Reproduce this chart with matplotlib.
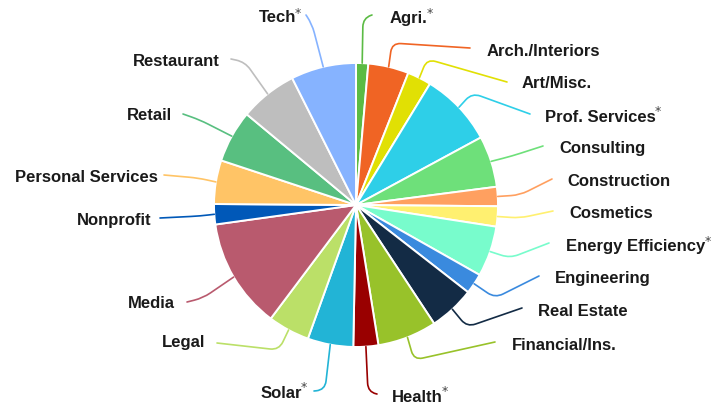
import matplotlib
matplotlib.use("Agg")
import matplotlib.pyplot as plt
import numpy as np
from matplotlib.path import Path
from matplotlib.patches import PathPatch

# ---------------- data ----------------
categories = ["Agri.", "Arch./Interiors", "Art/Misc.", "Prof. Services", "Consulting",
              "Construction", "Cosmetics", "Energy Efficiency", "Engineering", "Real Estate",
              "Financial/Ins.", "Health", "Solar", "Legal", "Media", "Nonprofit",
              "Personal Services", "Retail", "Restaurant", "Tech"]
values = [5.0, 16.6, 9.8, 30.2, 21.0, 7.9, 8.3, 20.7, 8.4, 18.7,
          24.3, 10.2, 18.7, 17.1, 45.2, 8.3, 17.9, 21.4, 23.6, 26.7]
starred = ["Agri.", "Prof. Services", "Energy Efficiency", "Health", "Solar", "Tech"]

colors = ["#5BBB44", "#F06424", "#E1E004", "#2ECFE8", "#6EE07A",
          "#FFA060", "#FFF070", "#78FCCC", "#3A8ADE", "#132B45",
          "#98C22A", "#990000", "#22B4D6", "#BBE068", "#B95A6E",
          "#0058B8", "#FFC466", "#58BF80", "#BEBEBE", "#86B3FF"]

# ---------------- layout (pixel coords, y down) ----------------
W, H = 722, 404
CX, CY, R = 356, 205, 142
# label: (text x, text y, ha, corner x, corner y, line end x, line end y)
layout = {
    "Tech":              (296, 18, "right", 312, 24, 306, 15),
    "Agri.":             (390, 19, "left", 363, 18, 372, 15),
    "Arch./Interiors":   (487, 51, "left", 392, 43, 470, 48),
    "Art/Misc.":         (522, 84, "left", 427, 59, 507, 82),
    "Prof. Services":    (545, 117, "left", 472, 93, 530, 114),
    "Consulting":        (559, 149, "left", 512, 156, 543, 146),
    "Construction":      (567, 181, "left", 520, 195, 552, 179),
    "Cosmetics":         (569, 214, "left", 520, 218, 553, 211),
    "Energy Efficiency": (566, 247, "left", 510, 258, 549, 243),
    "Engineering":       (555, 279, "left", 495, 298, 539, 276),
    "Real Estate":       (538, 312, "left", 467, 327, 522, 308),
    "Financial/Ins.":    (512, 345, "left", 414, 360, 495, 342),
    "Health":            (392, 397, "left", 368, 392, 377, 394),
    "Solar":             (302, 393, "right", 325, 390, 314, 391),
    "Legal":             (205, 343, "right", 279, 350, 217, 343),
    "Media":             (175, 304, "right", 203, 298, 187, 302),
    "Nonprofit":         (152, 221, "right", 200, 216, 160, 218),
    "Personal Services": (158, 177, "right", 198, 178, 164, 175),
    "Retail":            (172, 116, "right", 200, 120, 183, 114),
    "Restaurant":        (220, 61, "right", 245, 62, 231, 59),
}

fig = plt.figure(figsize=(W / 100, H / 100), dpi=100)
ax = fig.add_axes([0, 0, 1, 1])

wedges, _ = ax.pie(values, colors=colors, startangle=90, counterclock=False,
                   center=(CX, H - CY), radius=R,
                   wedgeprops=dict(edgecolor="white", linewidth=1.4))
ax.set_xlim(0, W)
ax.set_ylim(0, H)
ax.set_aspect("equal")
ax.axis("off")


def fy(y):
    return H - y


def lerp(a, b, t):
    return (a[0] + (b[0] - a[0]) * t, a[1] + (b[1] - a[1]) * t)


total = sum(values)
cum = 0.0
fig.canvas.draw()
renderer = fig.canvas.get_renderer()
for cat, val, col in zip(categories, values, colors):
    mid = (cum + val / 2) / total * 2 * np.pi
    cum += val
    ex = CX + R * np.sin(mid)
    ey = CY - R * np.cos(mid)
    tx, ty, ha, rx, ry, lx, ly = layout[cat]
    p0 = (ex, fy(ey))
    pc = (rx, fy(ry))
    p2 = (lx, fy(ly))
    d1 = np.hypot(pc[0] - p0[0], pc[1] - p0[1])
    d2 = np.hypot(p2[0] - pc[0], p2[1] - pc[1])
    rr = 9.0
    a = lerp(pc, p0, min(0.9, rr / max(d1, 1e-6)))
    b = lerp(pc, p2, min(0.9, rr / max(d2, 1e-6)))
    verts = [p0, a, pc, b, p2]
    codes = [Path.MOVETO, Path.LINETO, Path.CURVE3, Path.CURVE3, Path.LINETO]
    ax.add_patch(PathPatch(Path(verts, codes), facecolor="none", edgecolor=col,
                           linewidth=1.2, capstyle="round", zorder=1))
    t = ax.text(tx, fy(ty), cat, ha=ha, va="center", fontsize=12, fontweight="bold",
                family=["Liberation Sans", "DejaVu Sans"], color="#1a1a1a")
    if cat in starred:
        bb = t.get_window_extent(renderer=renderer)
        x1 = bb.x1
        ax.text(x1 - 1, fy(ty) + 5, "*", ha="left", va="center", fontsize=9,
                family=["DejaVu Sans"], color="#444444")

fig.savefig("out.png", dpi=100)
